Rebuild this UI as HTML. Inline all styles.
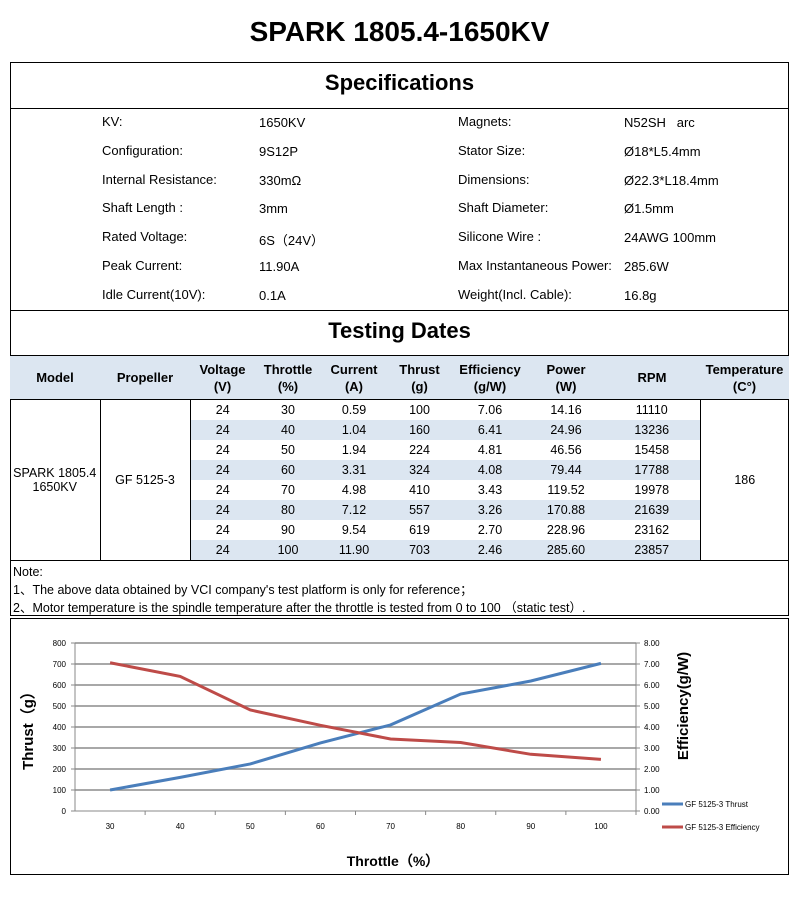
<!DOCTYPE html>
<html><head><meta charset="utf-8"><style>
*{margin:0;padding:0;box-sizing:border-box}
body{width:799px;height:915px;background:#fff;font-family:"Liberation Sans","Noto Sans CJK SC",sans-serif;color:#000;position:relative;overflow:hidden}
.abs{position:absolute}
.spec{position:absolute;font-size:13px}
table{border-collapse:collapse;position:absolute;left:10px;top:355px;width:779px;font-size:12.5px}
td,th{text-align:center;padding:0}
th{background:#dce6f1;height:44px;font-weight:bold;font-size:13px;line-height:17px;border-top:1px solid #000;border-bottom:1px solid #000}
td{height:20.1px}
tr.s td.d{background:#dce6f1}
</style></head><body>
<div class="abs" style="left:0;width:799px;top:16px;text-align:center;font-size:28px;font-weight:bold">SPARK 1805.4-1650KV</div>
<div class="abs" style="left:10px;top:62px;width:779px;height:554px;border:1px solid #000"></div>
<div class="abs" style="left:10px;width:779px;top:70px;text-align:center;font-size:22px;font-weight:bold">Specifications</div>
<div class="abs" style="left:10px;width:779px;top:108px;border-top:1px solid #000"></div>
<div>
<div class="spec" style="left:102px;top:114px">KV:</div><div class="spec" style="left:259px;top:115px">1650KV</div>
<div class="spec" style="left:102px;top:143px">Configuration:</div><div class="spec" style="left:259px;top:144px">9S12P</div>
<div class="spec" style="left:102px;top:172px">Internal Resistance:</div><div class="spec" style="left:259px;top:173px">330mΩ</div>
<div class="spec" style="left:102px;top:200px">Shaft Length :</div><div class="spec" style="left:259px;top:201px">3mm</div>
<div class="spec" style="left:102px;top:229px">Rated Voltage:</div><div class="spec" style="left:259px;top:230px">6S（24V）</div>
<div class="spec" style="left:102px;top:258px">Peak Current:</div><div class="spec" style="left:259px;top:259px">11.90A</div>
<div class="spec" style="left:102px;top:287px">Idle Current(10V):</div><div class="spec" style="left:259px;top:288px">0.1A</div>
<div class="spec" style="left:458px;top:114px">Magnets:</div><div class="spec" style="left:624px;top:115px">N52SH &nbsp; arc</div>
<div class="spec" style="left:458px;top:143px">Stator Size:</div><div class="spec" style="left:624px;top:144px">Ø18*L5.4mm</div>
<div class="spec" style="left:458px;top:172px">Dimensions:</div><div class="spec" style="left:624px;top:173px">Ø22.3*L18.4mm</div>
<div class="spec" style="left:458px;top:200px">Shaft Diameter:</div><div class="spec" style="left:624px;top:201px">Ø1.5mm</div>
<div class="spec" style="left:458px;top:229px">Silicone Wire :</div><div class="spec" style="left:624px;top:230px">24AWG 100mm</div>
<div class="spec" style="left:458px;top:258px">Max Instantaneous Power:</div><div class="spec" style="left:624px;top:259px">285.6W</div>
<div class="spec" style="left:458px;top:287px">Weight(Incl. Cable):</div><div class="spec" style="left:624px;top:288px">16.8g</div>
</div>
<div class="abs" style="left:10px;width:779px;top:310px;border-top:1px solid #000"></div>
<div class="abs" style="left:10px;width:779px;top:318px;text-align:center;font-size:22px;font-weight:bold">Testing Dates</div>
<table>
<colgroup><col style="width:90px"><col style="width:90px"><col style="width:65px"><col style="width:66px"><col style="width:66px"><col style="width:65px"><col style="width:76px"><col style="width:76px"><col style="width:96px"><col style="width:89px"></colgroup>
<tr><th>Model</th><th>Propeller</th><th>Voltage<br>(V)</th><th>Throttle<br>(%)</th><th>Current<br>(A)</th><th>Thrust<br>(g)</th><th>Efficiency<br>(g/W)</th><th>Power<br>(W)</th><th>RPM</th><th>Temperature<br>(C°)</th></tr>
<tr><td rowspan="8" style="border-right:1px solid #000">SPARK 1805.4<br>1650KV</td><td rowspan="8" style="border-right:1px solid #000">GF 5125-3</td><td class="d">24</td><td class="d">30</td><td class="d">0.59</td><td class="d">100</td><td class="d">7.06</td><td class="d">14.16</td><td class="d">11110</td><td rowspan="8" style="border-left:1px solid #000">186</td></tr>
<tr class="s"><td class="d">24</td><td class="d">40</td><td class="d">1.04</td><td class="d">160</td><td class="d">6.41</td><td class="d">24.96</td><td class="d">13236</td></tr>
<tr><td class="d">24</td><td class="d">50</td><td class="d">1.94</td><td class="d">224</td><td class="d">4.81</td><td class="d">46.56</td><td class="d">15458</td></tr>
<tr class="s"><td class="d">24</td><td class="d">60</td><td class="d">3.31</td><td class="d">324</td><td class="d">4.08</td><td class="d">79.44</td><td class="d">17788</td></tr>
<tr><td class="d">24</td><td class="d">70</td><td class="d">4.98</td><td class="d">410</td><td class="d">3.43</td><td class="d">119.52</td><td class="d">19978</td></tr>
<tr class="s"><td class="d">24</td><td class="d">80</td><td class="d">7.12</td><td class="d">557</td><td class="d">3.26</td><td class="d">170.88</td><td class="d">21639</td></tr>
<tr><td class="d">24</td><td class="d">90</td><td class="d">9.54</td><td class="d">619</td><td class="d">2.70</td><td class="d">228.96</td><td class="d">23162</td></tr>
<tr class="s"><td class="d">24</td><td class="d">100</td><td class="d">11.90</td><td class="d">703</td><td class="d">2.46</td><td class="d">285.60</td><td class="d">23857</td></tr>
</table>
<div class="abs" style="left:10px;width:779px;top:560px;border-top:1px solid #000"></div>
<div class="abs" style="left:13px;top:563px;font-size:12.5px;line-height:18px">Note:<br>1、The above data obtained by VCI company's test platform is only for reference；<br>2、Motor temperature is the spindle temperature after the throttle is tested from 0 to 100 （static test）.</div>
<div class="abs" style="left:10px;top:618px;width:779px;height:257px;border:1px solid #000"></div>
<svg class="abs" style="left:0;top:0" width="799" height="915" id="chart" font-family="Liberation Sans, sans-serif"></svg>
<script>
const categories=[30,40,50,60,70,80,90,100];
const thrust=[100,160,224,324,410,557,619,703];
const efficiency=[7.06,6.41,4.81,4.08,3.43,3.26,2.70,2.46];
const leftTicks=[0,100,200,300,400,500,600,700,800];
const rightTicks=["0.00","1.00","2.00","3.00","4.00","5.00","6.00","7.00","8.00"];
const svg=document.getElementById('chart');
const NS='http://www.w3.org/2000/svg';
const X0=75,X1=636,Y0=811,Y1=643;
const xs=i=>X0+(X1-X0)/categories.length*(i+0.5);
const yL=v=>Y0-(Y0-Y1)*v/800;
const yR=v=>Y0-(Y0-Y1)*v/8;
function mk(t,a,txt){const e=document.createElementNS(NS,t);for(const k in a)e.setAttribute(k,a[k]);if(txt!==undefined)e.textContent=txt;svg.appendChild(e);return e;}
leftTicks.forEach((v,i)=>{
 if(v>0){const g=mk('line',{x1:X0,x2:X1,y1:yL(v),y2:yL(v),stroke:'#8c8c8c','stroke-width':1.5});
 
 }
 const t=mk('text',{x:X0-9,y:yL(v)+3,'font-size':8,'text-anchor':'end'},v);
 
 
 const r=mk('text',{x:X1+8,y:yL(v)+3,'font-size':8},rightTicks[i]);
 
 
 mk('line',{x1:X0-4,x2:X0,y1:yL(v),y2:yL(v),stroke:'#888'});
 mk('line',{x1:X1,x2:X1+4,y1:yL(v),y2:yL(v),stroke:'#888'});
});
mk('line',{x1:X0,x2:X0,y1:Y1,y2:Y0,stroke:'#888'});
mk('line',{x1:X1,x2:X1,y1:Y1,y2:Y0,stroke:'#888'});
mk('line',{x1:X0,x2:X1,y1:Y0,y2:Y0,stroke:'#888'});
categories.forEach((c,i)=>{
 const x=X0+(X1-X0)/categories.length*(i+1);
 mk('line',{x1:x,x2:x,y1:Y0,y2:Y0+4,stroke:'#888'});
 const t=mk('text',{x:xs(i),y:829,'font-size':8,'text-anchor':'middle'},c);
 
 
});
const l1=mk('polyline',{points:thrust.map((v,i)=>xs(i)+','+yL(v)).join(' '),fill:'none',stroke:'#4a7ebb','stroke-width':3});


const l2=mk('polyline',{points:efficiency.map((v,i)=>xs(i)+','+yR(v)).join(' '),fill:'none',stroke:'#be4b48','stroke-width':3});


const yt=mk('text',{x:0,y:0,'font-size':15,'font-weight':'bold','text-anchor':'middle',transform:'translate(33,727) rotate(-90)'},'Thrust（g）');


const yr=mk('text',{x:0,y:0,'font-size':15,'font-weight':'bold','text-anchor':'middle',transform:'translate(688,706) rotate(-90)'},'Efficiency(g/W)');


const xt=mk('text',{x:393,y:866,'font-size':14,'font-weight':'bold','text-anchor':'middle'},'Throttle（%）');


mk('line',{x1:662,x2:683,y1:804,y2:804,stroke:'#4a7ebb','stroke-width':3});
const lg1=mk('text',{x:685,y:807,'font-size':8},'GF 5125-3 Thrust');


mk('line',{x1:662,x2:683,y1:827,y2:827,stroke:'#be4b48','stroke-width':3});
const lg2=mk('text',{x:685,y:830,'font-size':8},'GF 5125-3 Efficiency');


</script>
</body></html>
